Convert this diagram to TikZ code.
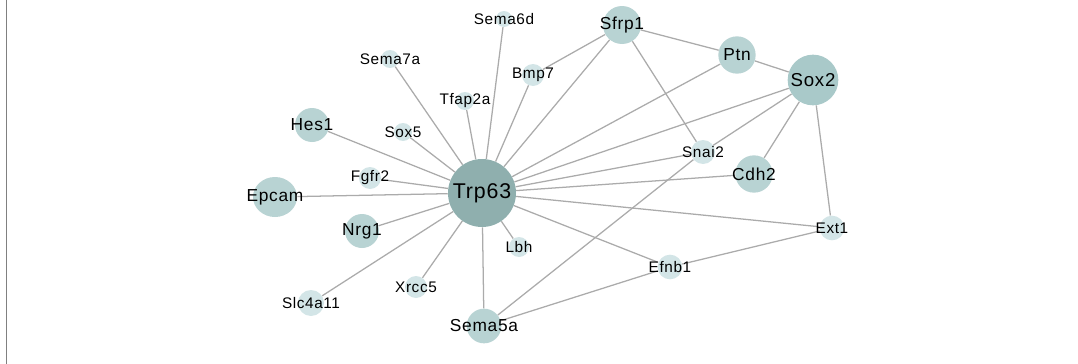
\documentclass[tikz,border=0pt]{standalone}
\usepackage{fontspec}
\newfontfamily\genefont[LetterSpace=4]{Liberation Sans}
\usetikzlibrary{shapes.geometric,backgrounds}

\definecolor{hubcol}{HTML}{8FAFAE}
\definecolor{majorcol}{HTML}{A9C9C9}
\definecolor{midcol}{HTML}{B8D3D3}
\definecolor{leafcol}{HTML}{D3E5E7}
\definecolor{linkcol}{HTML}{ABABAB}
\definecolor{framecol}{HTML}{808080}

\begin{document}
\begin{tikzpicture}[x=0.75pt,y=-0.75pt,
    gene/.style={circle, inner sep=0pt, draw=none},
    hub/.style={gene, fill=hubcol},
    major/.style={gene, fill=majorcol},
    mid/.style={gene, fill=midcol},
    leaf/.style={gene, fill=leafcol},
    hubtxt/.style={font=\genefont\fontsize{16pt}{18pt}\selectfont},
    majortxt/.style={font=\genefont\fontsize{14pt}{16pt}\selectfont},
    midtxt/.style={font=\genefont\fontsize{13pt}{15pt}\selectfont},
    leaftxt/.style={font=\genefont\fontsize{11.5pt}{13pt}\selectfont},
    link/.style={draw=linkcol, line width=0.95pt}]

    \useasboundingbox (0,0) rectangle (1078,364);

    % frame edge on the left
    \draw [framecol, line width=1.1pt] (6.5,0) -- (6.5,364);

    % hub genes
    \node[hub, minimum size=51pt, label={[hubtxt]center:Trp63}] (trp63) at (482,193) {};
    \node[major, minimum size=38pt, label={[majortxt]center:Sox2}] (sox2) at (813,80) {};

    % medium genes
    \node[mid, minimum size=28.5pt, label={[midtxt]center:Sfrp1}] (sfrp1) at (622,25) {};
    \node[mid, minimum size=28pt, label={[midtxt]center:Ptn}] (ptn) at (737,55) {};
    \node[mid, minimum size=28pt, label={[midtxt]center:Cdh2}] (cdh2) at (754,174) {};
    \node[mid, minimum size=25.5pt, label={[midtxt]center:Hes1}] (hes1) at (312,125) {};
    \node[mid, ellipse, minimum width=33pt, minimum height=30pt, label={[midtxt]center:Epcam}] (epcam) at (275,197) {};
    \node[mid, minimum size=25.5pt, label={[midtxt]center:Nrg1}] (nrg1) at (362,231) {};
    \node[mid, minimum size=26pt, label={[midtxt]center:Sema5a}] (sema5a) at (484,326) {};

    % small genes
    \node[leaf, minimum size=12pt, label={[leaftxt]center:Sema6d}] (sema6d) at (504,19) {};
    \node[leaf, minimum size=13.5pt, label={[leaftxt]center:Sema7a}] (sema7a) at (390,59) {};
    \node[leaf, minimum size=13.5pt, label={[leaftxt]center:Tfap2a}] (tfap2a) at (465,101) {};
    \node[leaf, minimum size=13.5pt, label={[leaftxt]center:Sox5}] (sox5) at (403,132) {};
    \node[leaf, minimum size=16.5pt, label={[leaftxt]center:Bmp7}] (bmp7) at (533,75) {};
    \node[leaf, minimum size=16.5pt, label={[leaftxt]center:Fgfr2}] (fgfr2) at (370,178) {};
    \node[leaf, minimum size=15pt, label={[leaftxt]center:Lbh}] (lbh) at (519,247) {};
    \node[leaf, minimum size=16.5pt, label={[leaftxt]center:Xrcc5}] (xrcc5) at (416,287) {};
    \node[leaf, minimum size=19.5pt, label={[leaftxt]center:Slc4a11}] (slc4a11) at (311,303) {};
    \node[leaf, minimum size=18pt, label={[leaftxt]center:Snai2}] (snai2) at (703,152) {};
    \node[leaf, minimum size=18.5pt, label={[leaftxt]center:Efnb1}] (efnb1) at (670,267) {};
    \node[leaf, minimum size=18.5pt, label={[leaftxt]center:Ext1}] (ext1) at (832,228) {};

    % interactions
    \begin{scope}[on background layer]
        \foreach \g in {hes1,sema7a,sox5,tfap2a,sema6d,bmp7,sfrp1,ptn,sox2,snai2,
                        cdh2,ext1,efnb1,lbh,sema5a,xrcc5,slc4a11,nrg1,epcam,fgfr2}
            \draw [link] (trp63) -- (\g);
        \draw [link] (sfrp1) -- (bmp7);
        \draw [link] (sfrp1) -- (ptn);
        \draw [link] (sfrp1) -- (snai2);
        \draw [link] (ptn) -- (sox2);
        \draw [link] (sox2) -- (snai2);
        \draw [link] (sox2) -- (cdh2);
        \draw [link] (sox2) -- (ext1);
        \draw [link] (snai2) -- (sema5a);
        \draw [link] (sema5a) -- (efnb1);
        \draw [link] (efnb1) -- (ext1);
    \end{scope}
\end{tikzpicture}
\end{document}
